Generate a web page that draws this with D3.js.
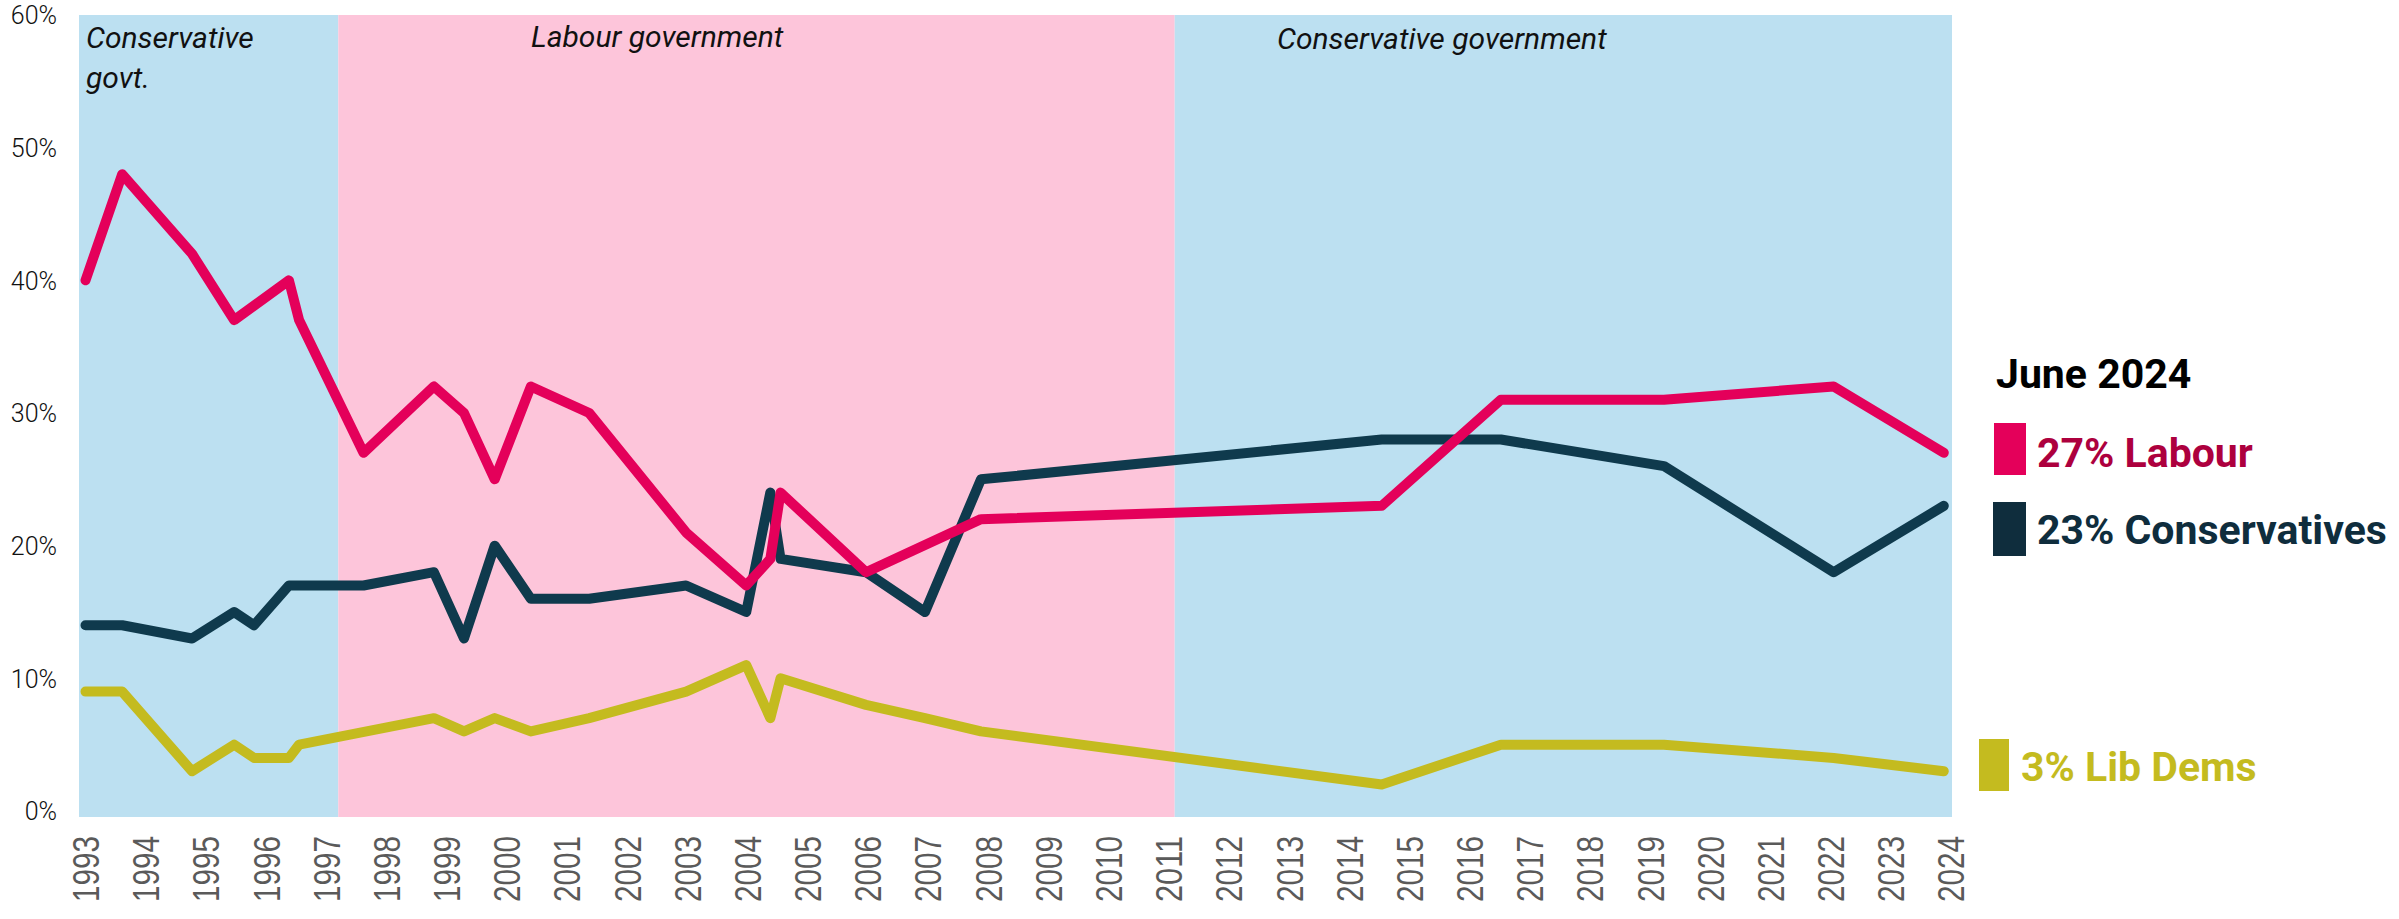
<!DOCTYPE html>
<html>
<head>
<meta charset="utf-8">
<script src="https://cdn.jsdelivr.net/npm/d3@7"></script>
<style>
  html, body { margin: 0; padding: 0; background: #ffffff; }
  svg { display: block; }
</style>
</head>
<body>
<svg id="chart" width="2399" height="919"></svg>
<script>
// ---------------- DATA ----------------
const dates = [1993.0, 1993.61, 1994.77, 1995.47, 1995.8, 1996.38, 1996.55, 1997.62, 1998.79, 1999.29,
               1999.8, 2000.4, 2001.37, 2002.98, 2003.98, 2004.38, 2004.55, 2005.97, 2006.95, 2007.88,
               2014.54, 2016.52, 2019.23, 2022.05, 2023.88];
const labour        = [40, 48, 42, 37, null, 40, 37, 27, 32, 30, 25, 32, 30, 21, 17, 19, 24, 18, null, 22, 23, 31, 31, 32, 27];
const conservatives = [14, 14, 13, 15, 14, 17, null, 17, 18, 13, 20, 16, 16, 17, 15, 24, 19, 18, 15, 25, 28, 28, 26, 18, 23];
const libDems       = [9, 9, 3, 5, 4, 4, 5, null, 7, 6, 7, 6, 7, 9, 11, 7, 10, 8, 7, 6, 2, 5, 5, 4, 3];

const yearTicks = d3.range(1993, 2025);
const pctTicks = [0, 10, 20, 30, 40, 50, 60];

const govtStart = [1990, 1997.2, 2011.1];
const govtEnd   = [1997.2, 2011.1, 2030];
const govtParty = ["con", "lab", "con"];
const govtLabel = [["Conservative", "govt."], ["Labour government"], ["Conservative government"]];

const legendTitle = "June 2024";
const legendNames  = ["Labour", "Conservatives", "Lib Dems"];
const legendValues = [27, 23, 3];

// ---------------- LAYOUT / STYLE ----------------
const W = 2399, H = 919;
const plotLeft = 79, plotRight = 1952, plotTop = 15, plotBottom = 817;

const x = d3.scaleLinear().domain([1993, 2024]).range([85.5, 1951]);
const y = d3.scaleLinear().domain([0, 60]).range([811, 15]);

const bandColor = { con: "#bce0f1", lab: "#fdc5da" };
const lineColor = { lab: "#e4005a", con: "#0f3a4d", ld: "#c4bb1f" };

const svg = d3.select("#chart");

// background bands (clipped to the plot area)
const bands = svg.append("g");
govtStart.forEach((s, i) => {
  const x0 = Math.max(plotLeft, x(s));
  const x1 = Math.min(plotRight, x(govtEnd[i]));
  bands.append("rect")
    .attr("x", x0).attr("y", plotTop)
    .attr("width", x1 - x0).attr("height", plotBottom - plotTop)
    .attr("fill", bandColor[govtParty[i]]);
});

// period labels
const labelPos = [[86, 48], [531, 47], [1277, 49]];
govtLabel.forEach((lines, i) => {
  const t = svg.append("text")
    .attr("x", labelPos[i][0]).attr("y", labelPos[i][1])
    .attr("font-family", "Roboto, 'Noto Sans', sans-serif")
    .attr("font-style", "italic")
    .attr("font-size", 30)
    .attr("fill", "#111");
  lines.forEach((l, j) => {
    t.append("tspan").attr("x", labelPos[i][0]).attr("dy", j === 0 ? 0 : 40).text(l);
  });
});

// y axis
const yAxis = d3.axisLeft(y).tickValues(pctTicks).tickFormat(d => d + "%").tickSize(0).tickPadding(0);
const gy = svg.append("g").attr("transform", `translate(${plotLeft - 22},0)`).call(yAxis);
gy.select(".domain").remove();
gy.selectAll("text")
  .attr("font-family", "Roboto, 'Noto Sans', sans-serif")
  .attr("font-size", 25)
  .attr("font-weight", 300)
  .attr("fill", "#111")
  .attr("dy", "0.35em");

// x axis
const xAxis = d3.axisBottom(x).tickValues(yearTicks).tickFormat(d3.format("d")).tickSize(0).tickPadding(0);
const gx = svg.append("g").attr("transform", `translate(0,${plotBottom})`).call(xAxis);
gx.select(".domain").remove();
gx.selectAll("text")
  .attr("font-family", "'Liberation Sans Narrow', 'Liberation Sans', Arial, sans-serif")
  .attr("font-size", 36)
  .attr("fill", "#5a5a5a")
  .attr("text-anchor", "end")
  .attr("transform", "rotate(-90)")
  .attr("x", -19)
  .attr("y", 0)
  .attr("dy", "0.36em")
  .attr("textLength", 66)
  .attr("lengthAdjust", "spacingAndGlyphs");

// lines
const series = [
  { key: "ld", values: libDems },
  { key: "con", values: conservatives },
  { key: "lab", values: labour }
];
const line = d3.line().x(d => x(d[0])).y(d => y(d[1]));
series.forEach(s => {
  const pts = dates.map((d, i) => [d, s.values[i]]).filter(p => p[1] !== null);
  svg.append("path")
    .attr("d", line(pts))
    .attr("fill", "none")
    .attr("stroke", lineColor[s.key])
    .attr("stroke-width", 10)
    .attr("stroke-linejoin", "round")
    .attr("stroke-linecap", "round");
});

// legend
const legFont = "Roboto, 'Noto Sans', sans-serif";
svg.append("text")
  .attr("x", 1996).attr("y", 388)
  .attr("font-family", legFont).attr("font-weight", 700).attr("font-size", 41)
  .attr("fill", "#000").text(legendTitle);

const legendItems = [
  { sq: [1994, 423, 32, 52], tx: [2037, 467], fill: "#e4005a", text: "#ad003e" },
  { sq: [1993, 502, 33, 54], tx: [2037, 544], fill: "#0f2d3d", text: "#0f2d3d" },
  { sq: [1979, 739, 30, 52], tx: [2021, 781], fill: "#c4bb1f", text: "#c4bb1f" }
];
legendItems.forEach((it, i) => {
  svg.append("rect")
    .attr("x", it.sq[0]).attr("y", it.sq[1]).attr("width", it.sq[2]).attr("height", it.sq[3])
    .attr("fill", it.fill);
  svg.append("text")
    .attr("x", it.tx[0]).attr("y", it.tx[1])
    .attr("font-family", legFont).attr("font-weight", 700).attr("font-size", 41)
    .attr("fill", it.text)
    .text(`${legendValues[i]}% ${legendNames[i]}`);
});
</script>
</body>
</html>
